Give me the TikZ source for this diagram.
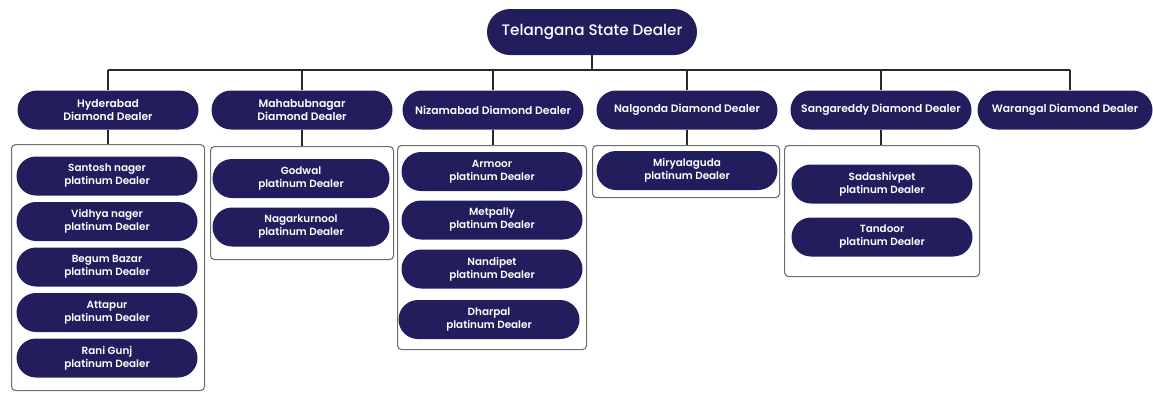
\documentclass[tikz,border=0pt]{standalone}
\usepackage{fontspec}
\setmainfont{Poppins}[UprightFont=* SemiBold, BoldFont=* Bold]
\newfontfamily\topfont{Poppins}[UprightFont=* Medium]
\usetikzlibrary{positioning}
\definecolor{navy}{RGB}{34,30,94}
\definecolor{lineclr}{RGB}{40,40,40}
\definecolor{grpclr}{RGB}{110,110,110}
\tikzset{
  pill/.style={fill=navy, draw=none, rounded corners=19.5pt, minimum height=39pt, minimum width=181pt, text=white, align=center, inner sep=0pt},
  toppill/.style={pill, rounded corners=23pt, minimum height=46pt, minimum width=210pt, font=\topfont\fontsize{15.2}{17}\selectfont},
  lvltwo/.style={pill, font=\fontsize{10.8}{13.5}\selectfont},
  leaf/.style={pill, font=\fontsize{10.4}{13}\selectfont},
  grp/.style={draw=grpclr, line width=1.1pt, rounded corners=4pt, inner sep=0pt, anchor=north west},
  conn/.style={draw=lineclr, line width=1.8pt},
}
\begin{document}
\begin{tikzpicture}[x=1pt,y=-1pt]
\useasboundingbox (0,0) rectangle (1153,392);
% groups first
\node[grp, minimum width=193pt, minimum height=246pt] (ghyd) at (11,144) {};
\node[grp, minimum width=183pt, minimum height=113pt] (gmah) at (210,146) {};
\node[grp, minimum width=189pt, minimum height=204pt] (gniz) at (397,145) {};
\node[grp, minimum width=187pt, minimum height=52pt] (gnal) at (592,145) {};
\node[grp, minimum width=195pt, minimum height=131pt] (gsan) at (784,145) {};
% top
\node[toppill] (top) at (592,32) {Telangana State Dealer};
% level two
\node[lvltwo] (hyd) at (108,110) {Hyderabad\\Diamond Dealer};
\node[lvltwo] (mah) at (302,110) {Mahabubnagar\\Diamond Dealer};
\node[lvltwo] (niz) at (493,110) {Nizamabad Diamond Dealer};
\node[lvltwo] (nal) at (687,110) {Nalgonda Diamond Dealer};
\node[lvltwo] (san) at (881,110) {Sangareddy Diamond Dealer};
\node[lvltwo, minimum width=175pt] (war) at (1065,110) {Warangal Diamond Dealer};
% bus
\coordinate (busL) at (108,70);
\coordinate (busR) at (1070,70);
\draw[conn] (busL) -- (busR);
\draw[conn] (top.south) -- (top.south |- busL);
\draw[conn] (hyd.north) -- (hyd.north |- busL);
\draw[conn] (mah.north) -- (mah.north |- busL);
\draw[conn] (niz.north) -- (niz.north |- busL);
\draw[conn] (nal.north) -- (nal.north |- busL);
\draw[conn] (san.north) -- (san.north |- busL);
\draw[conn] (busR) -- (busR |- war.north);
% drops to groups
\draw[conn] (hyd.south) -- (hyd.south |- ghyd.north);
\draw[conn] (mah.south) -- (mah.south |- gmah.north);
\draw[conn] (niz.south) -- (niz.south |- gniz.north);
\draw[conn] (nal.south) -- (nal.south |- gnal.north);
\draw[conn] (san.south) -- (san.south |- gsan.north);
% leaves Hyderabad
\node[leaf] (h1) at (107,176) {Santosh nager\\platinum Dealer};
\node[leaf] (h2) at (107,221.5) {Vidhya nager\\platinum Dealer};
\node[leaf] (h3) at (107,267) {Begum Bazar\\platinum Dealer};
\node[leaf] (h4) at (107,312.5) {Attapur\\platinum Dealer};
\node[leaf] (h5) at (107,358) {Rani Gunj\\platinum Dealer};
% Mahabubnagar
\node[leaf, minimum width=177pt] (m1) at (301,178.5) {Godwal\\platinum Dealer};
\node[leaf, minimum width=177pt] (m2) at (301,227) {Nagarkurnool\\platinum Dealer};
% Nizamabad
\node[leaf] (n1) at (492,171.5) {Armoor\\platinum Dealer};
\node[leaf] (n2) at (492,220) {Metpally\\platinum Dealer};
\node[leaf] (n3) at (492,269) {Nandipet\\platinum Dealer};
\node[leaf] (n4) at (489,319.5) {Dharpal\\platinum Dealer};
% Nalgonda
\node[leaf] (g1) at (687,170.5) {Miryalaguda\\platinum Dealer};
% Sangareddy
\node[leaf] (s1) at (882,184) {Sadashivpet\\platinum Dealer};
\node[leaf] (s2) at (882,237) {Tandoor\\platinum Dealer};
\end{tikzpicture}
\end{document}
